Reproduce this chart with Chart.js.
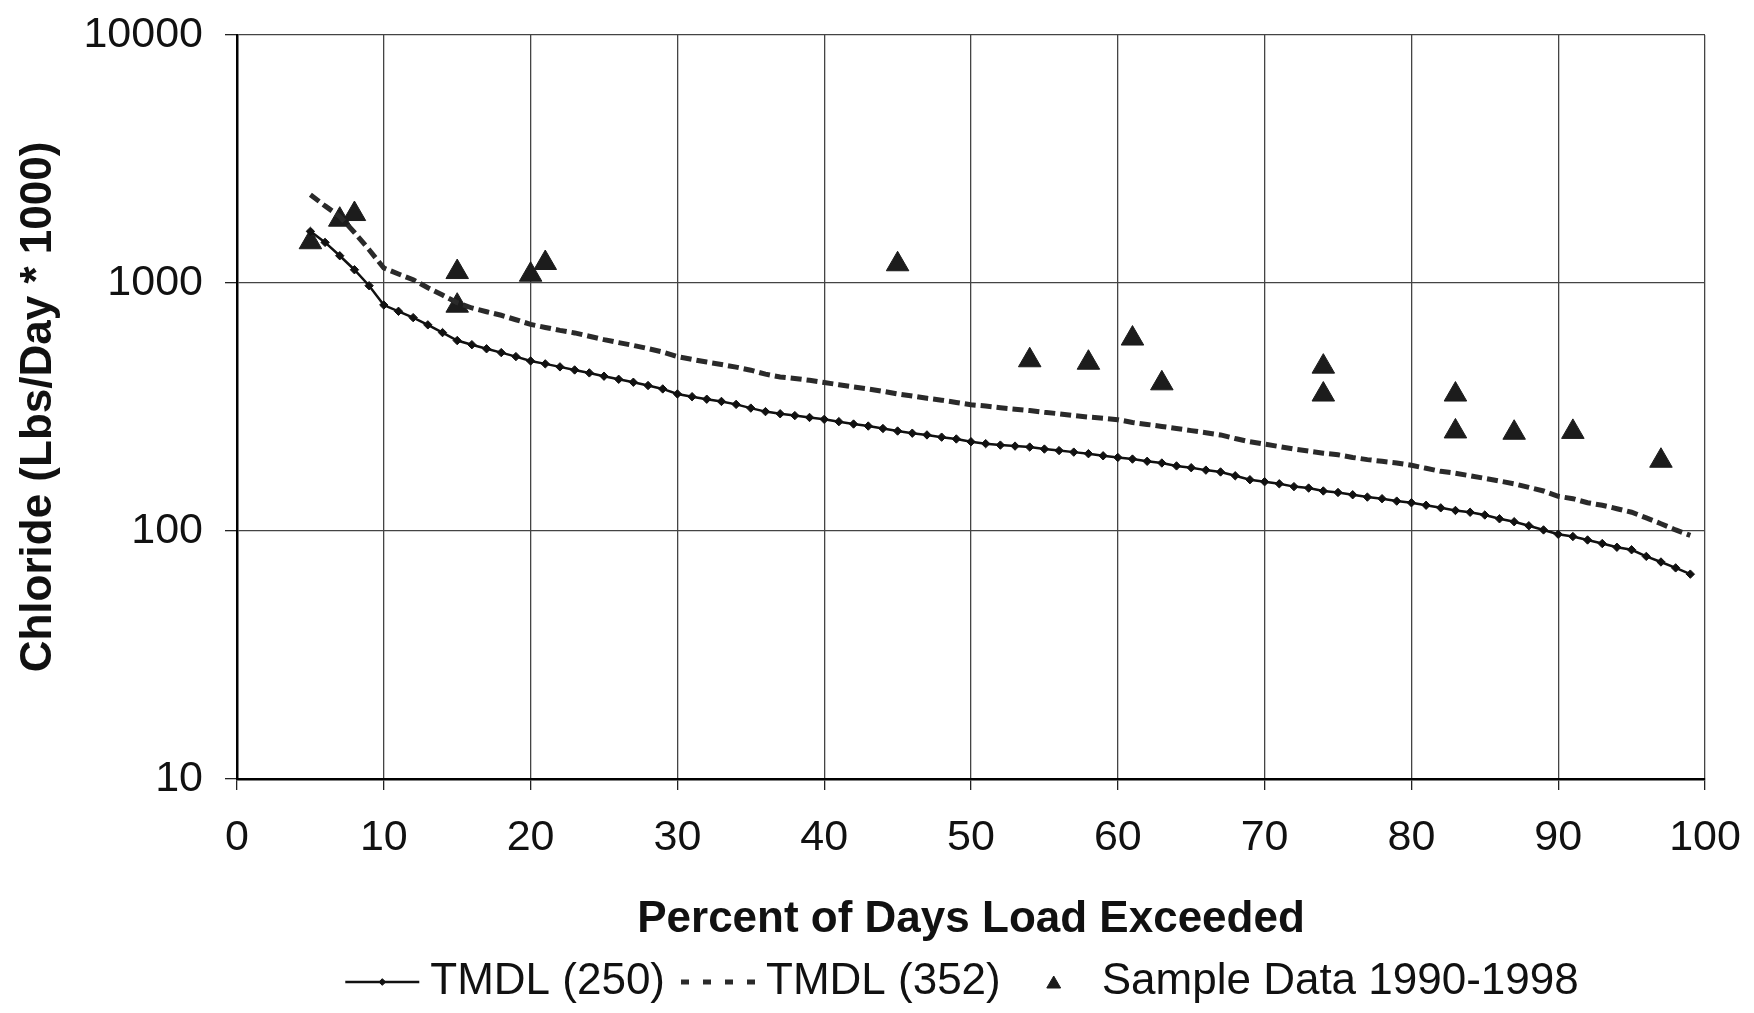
<!DOCTYPE html>
<html><head><meta charset="utf-8">
<script src="https://cdn.jsdelivr.net/npm/chart.js@4.4.1/dist/chart.umd.min.js"></script>
<style>html,body{margin:0;padding:0;background:#fff;overflow:hidden}canvas{display:block}</style>
</head><body>
<canvas id="c" width="1754" height="1013"></canvas>
<script>
// ---- data ----
const percentExceeded = [5,6,7,8,9,10,11,12,13,14,15,16,17,18,19,20,21,22,23,24,25,26,27,28,29,30,31,32,33,34,35,36,37,38,39,40,41,42,43,44,45,46,47,48,49,50,51,52,53,54,55,56,57,58,59,60,61,62,63,64,65,66,67,68,69,70,71,72,73,74,75,76,77,78,79,80,81,82,83,84,85,86,87,88,89,90,91,92,93,94,95,96,97,98,99];
const tmdl250 = [1615,1458,1288,1131,975,815,769,725,678,631,586,564,543,524,505,485,472,459,446,434,421,409,398,386,374,357,348,340,333,324,313,303,297,292,287,282,276,270,265,259,253,248,244,239,235,229,225,222,220,218,214,211,208,205,201,198,195,191,188,183,180,176,173,167,161,158,155,151,149,145,143,140,137,135,132,130,127,124,121,119,116,112,109,105,101,97,95,92,89,86,84,79,75,71,67];
const tmdl352 = [2270,2046,1854,1599,1362,1149,1087,1031,957,894,833,793,766,741,711,681,662,644,629,610,591,575,560,544,527,505,492,480,469,458,445,429,418,412,405,397,389,381,374,366,357,350,343,337,330,323,319,314,310,306,301,297,292,288,285,281,274,269,264,259,254,249,244,236,229,224,219,214,210,206,203,198,194,191,188,184,179,174,171,167,163,159,155,150,145,138,135,130,127,123,119,113,107,101,96];
const samplePct  = [5,7,8,15,15,20,21,45,54,58,61,63,74,74,83,83,87,91,97];
const sampleLoad = [1460,1800,1897,1107,810,1080,1204,1190,488,477,597,394,460,355,355,252,249,251,192];
const xTickValues = [0,10,20,30,40,50,60,70,80,90,100];
const yTickValues = [10,100,1000,10000];
const seriesNames = ['TMDL (250)','TMDL (352)','Sample Data 1990-1998'];
const xTitle = 'Percent of Days Load Exceeded';
const yTitle = 'Chloride (Lbs/Day * 1000)';

const FONT = '"Liberation Sans", Arial, Helvetica, sans-serif';
const toXY = (xs, ys) => xs.map((x, i) => ({x: x, y: ys[i]}));

const bottomLegend = {
  id: 'bottomLegend',
  afterDraw(chart) {
    const ctx = chart.ctx;
    ctx.save();
    ctx.font = '44px ' + FONT;
    ctx.textBaseline = 'middle';
    ctx.fillStyle = '#111';
    const y = 982, sampleW = 74, gapText = 11, gapItem = 16;
    const items = chart.data.datasets.map(ds => ({ds, w: ctx.measureText(ds.label).width}));
    const total = items.reduce((s, it) => s + sampleW + gapText + it.w, 0) + gapItem * (items.length - 1);
    let x = 962 - total / 2;
    items.forEach(it => {
      const ds = it.ds;
      if (ds.showLine) {
        ctx.save();
        ctx.strokeStyle = ds.borderColor;
        ctx.lineWidth = ds.legendLineWidth || ds.borderWidth;
        ctx.setLineDash(ds.legendDash || ds.borderDash || []);
        ctx.beginPath(); ctx.moveTo(x, y); ctx.lineTo(x + sampleW, y); ctx.stroke();
        ctx.restore();
        if (ds.pointRadius > 0) {
          ctx.save();
          ctx.fillStyle = ds.pointBackgroundColor; ctx.strokeStyle = ds.pointBorderColor;
          Chart.helpers.drawPoint(ctx, {pointStyle: ds.pointStyle, radius: ds.pointRadius * 0.8, borderWidth: 1}, x + sampleW / 2, y);
          ctx.restore();
        }
      } else {
        ctx.save();
        ctx.fillStyle = ds.backgroundColor; ctx.strokeStyle = ds.borderColor;
        Chart.helpers.drawPoint(ctx, {pointStyle: ds.pointStyle, radius: 8, borderWidth: 1}, x + sampleW / 2, y + 2);
        ctx.restore();
      }
      ctx.fillStyle = '#111';
      ctx.textAlign = 'left';
      ctx.fillText(ds.label, x + sampleW + gapText, y);
      x += sampleW + gapText + it.w + gapItem;
    });
    ctx.restore();
  }
};

new Chart(document.getElementById('c'), {
  type: 'scatter',
  data: {
    datasets: [
      {label: seriesNames[0], data: toXY(percentExceeded, tmdl250), showLine: true,
       borderColor: '#111', borderWidth: 2.5, pointStyle: 'rectRot', pointRadius: 4.2,
       pointBackgroundColor: '#111', pointBorderColor: '#111', pointBorderWidth: 1, tension: 0},
      {label: seriesNames[1], data: toXY(percentExceeded, tmdl352), showLine: true,
       borderColor: '#2a2a2a', borderWidth: 5, legendLineWidth: 5, borderDash: [11, 5], legendDash: [8, 14],
       pointRadius: 0, tension: 0},
      {label: seriesNames[2], data: toXY(samplePct, sampleLoad), showLine: false,
       pointStyle: 'triangle', pointRadius: 13, backgroundColor: '#1c1c1c', borderColor: '#1c1c1c', borderWidth: 1}
    ]
  },
  options: {
    responsive: false, devicePixelRatio: 1, animation: false,
    layout: {padding: {left: 0, right: 49, top: 35, bottom: 63}},
    plugins: {legend: {display: false}, tooltip: {enabled: false}},
    scales: {
      x: {
        type: 'linear', min: 0, max: 100,
        afterBuildTicks: s => { s.ticks = xTickValues.map(v => ({value: v})); },
        ticks: {font: {family: FONT, size: 43}, color: '#111', padding: 22, maxRotation: 0, autoSkip: false},
        grid: {color: '#444', lineWidth: 1.3, tickLength: 11, tickColor: '#222'},
        border: {color: '#000', width: 2.5},
        title: {display: true, text: xTitle, color: '#111', font: {family: FONT, size: 44, weight: 'bold'}, padding: {top: 0, bottom: 4}},
        afterFit: s => { s.height = 171; s.paddingLeft = 0; s.paddingRight = 0; }
      },
      y: {
        type: 'logarithmic', min: 10, max: 10000,
        afterBuildTicks: s => { s.ticks = yTickValues.map(v => ({value: v, major: true})); },
        ticks: {font: {family: FONT, size: 43}, color: '#111', padding: 22,
                callback: v => yTickValues.includes(v) ? String(v) : ''},
        grid: {color: '#444', lineWidth: 1.3, tickLength: 12, tickColor: '#222'},
        border: {color: '#000', width: 2.5},
        title: {display: true, text: yTitle, color: '#111', font: {family: FONT, size: 44, weight: 'bold'}, padding: {top: 12, bottom: 0}},
        afterFit: s => { s.width = 237; s.paddingTop = 0; s.paddingBottom = 0; }
      }
    }
  },
  plugins: [bottomLegend]
});
</script>
</body></html>
